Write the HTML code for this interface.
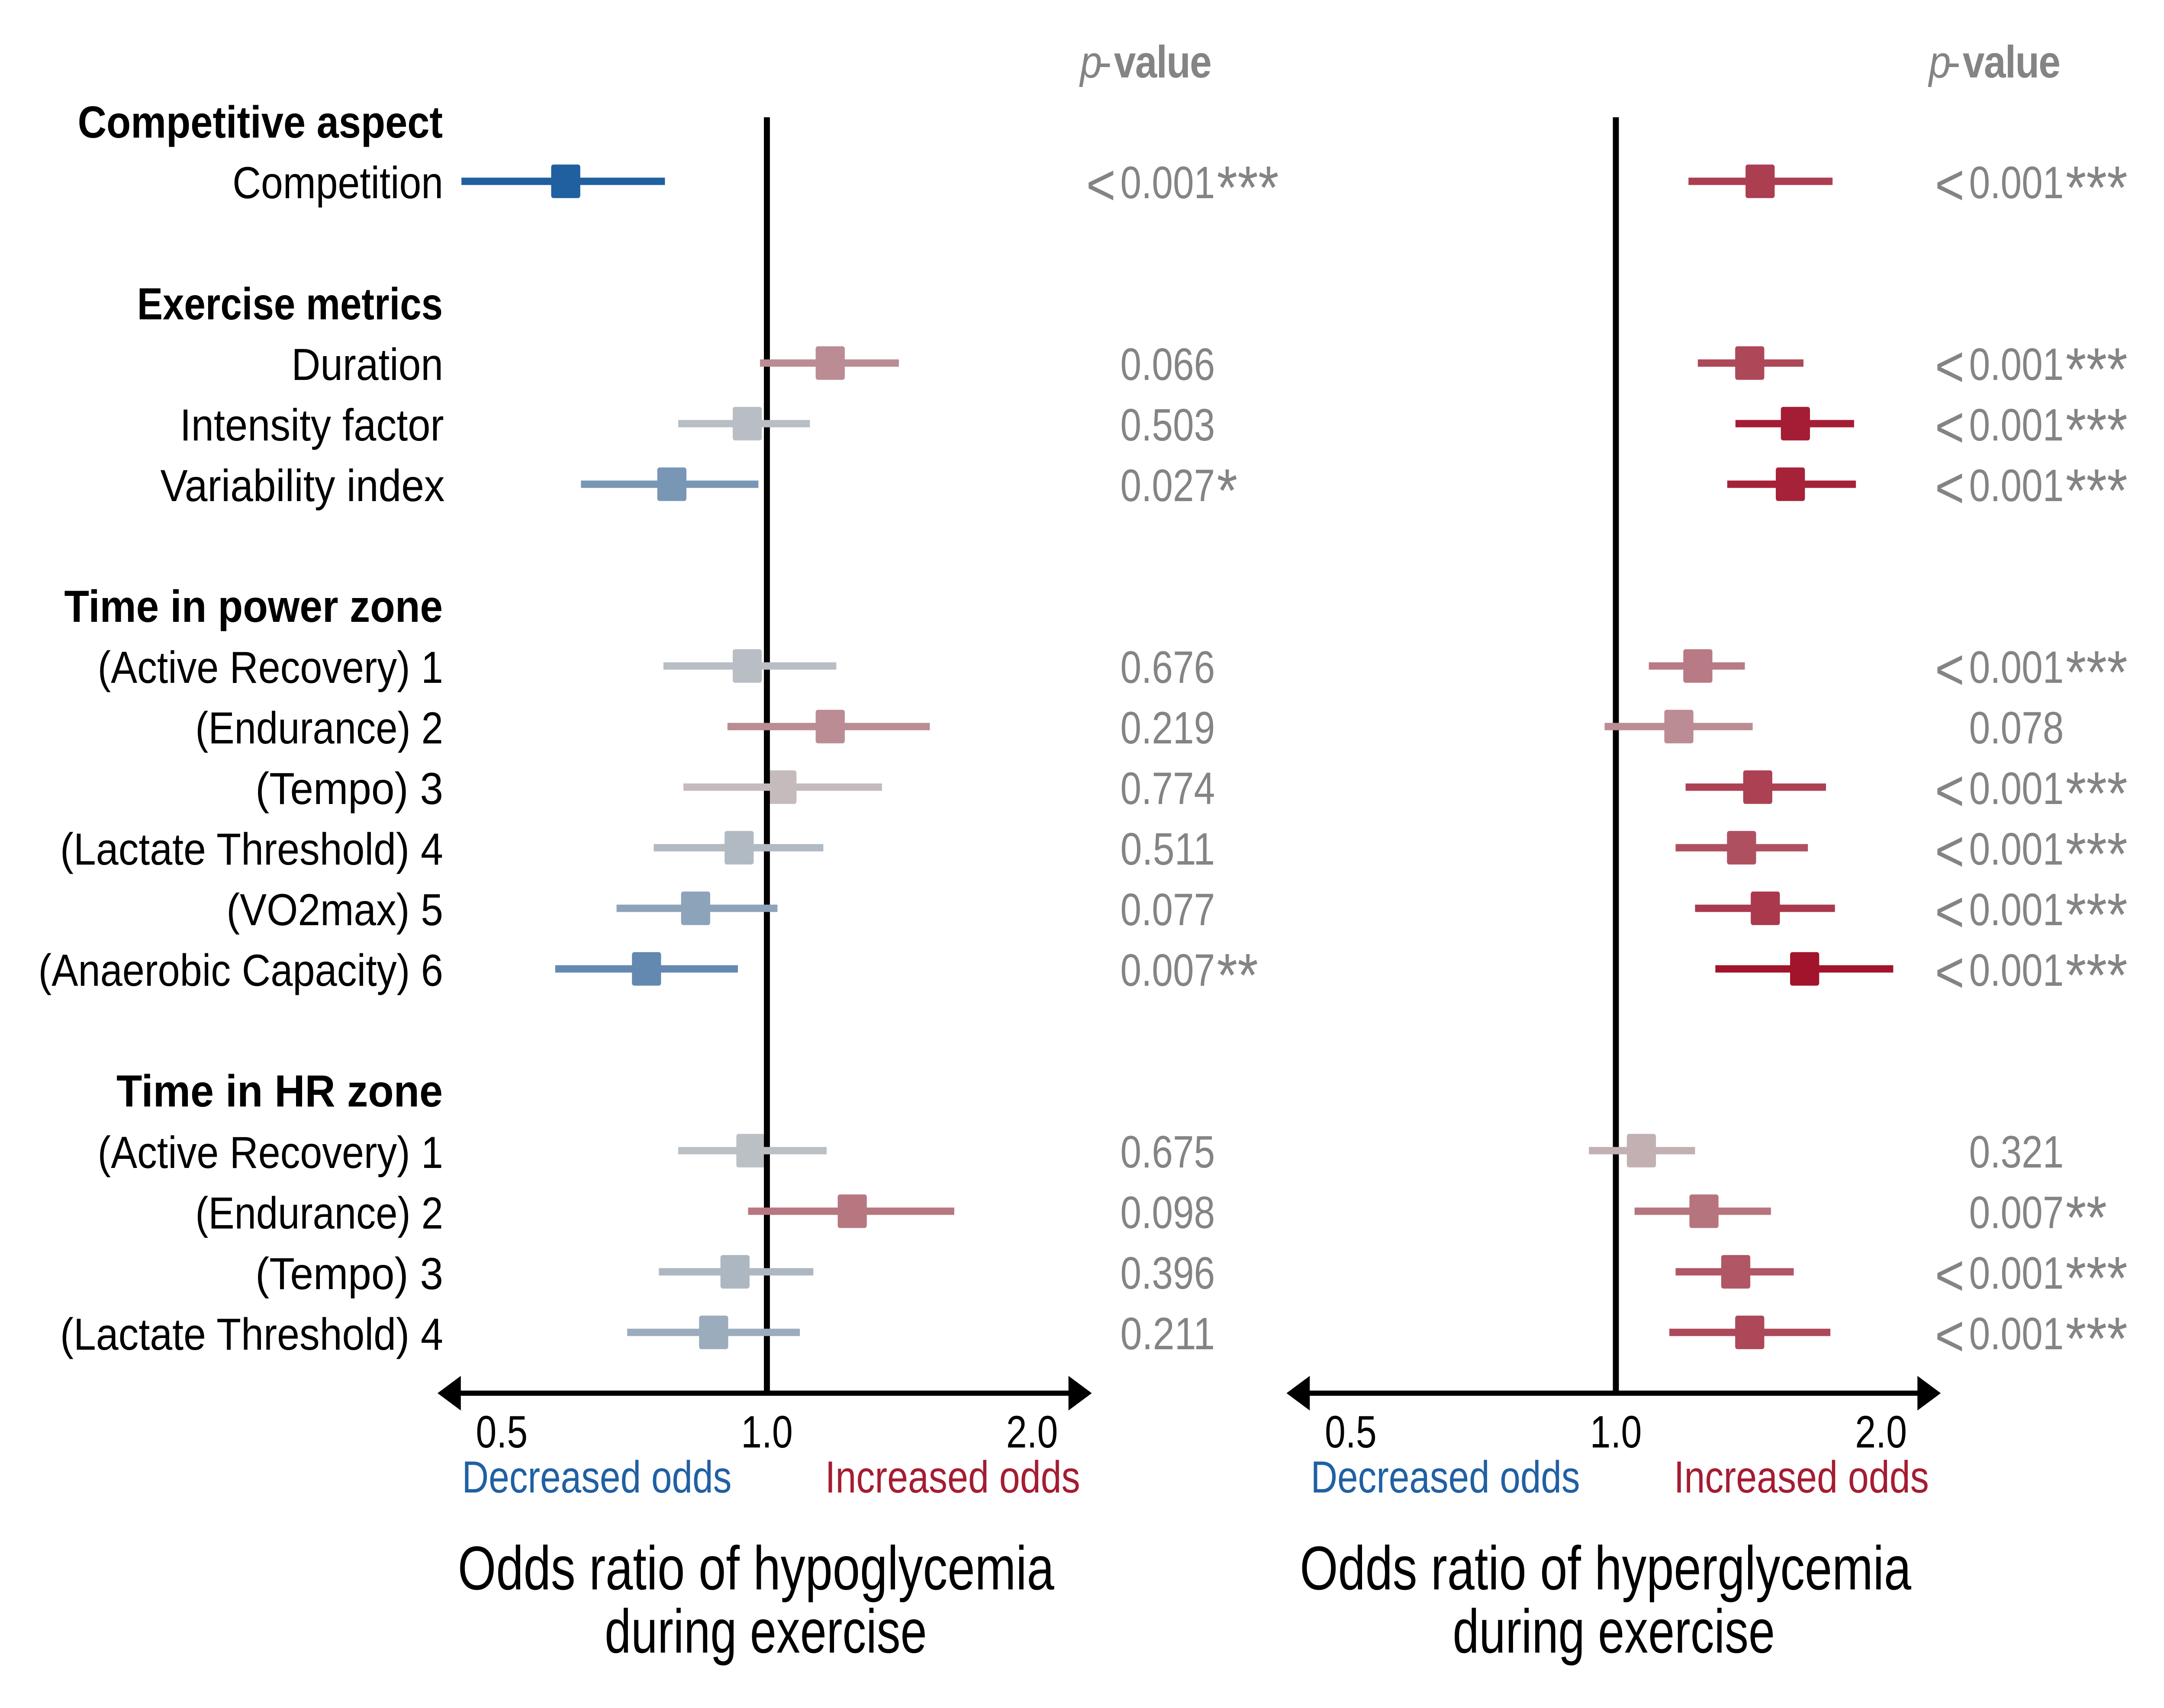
<!DOCTYPE html>
<html lang="en">
<head>
<meta charset="utf-8">
<title>Odds ratio of hypoglycemia and hyperglycemia during exercise</title>
<style>
html,body{margin:0;padding:0;background:#fff;width:100%;height:100%;overflow:hidden;}
svg{display:block;width:100vw;height:100vh;}
text{font-family:"Liberation Sans",sans-serif;}
.lab{font-size:104px;fill:#000;text-anchor:end;}
.grp{font-size:104px;font-weight:bold;fill:#000;text-anchor:end;}
.ttl{font-size:143px;fill:#000;}
.dir{font-size:104px;}
.tick{font-size:105px;fill:#000;text-anchor:middle;}
.pv{font-size:105px;fill:#848484;}
.pvh{font-size:105px;fill:#848484;}
</style>
</head>
<body>
<svg id="chart" xmlns="http://www.w3.org/2000/svg" viewBox="0 0 5762 3947" preserveAspectRatio="none">
<rect x="0" y="0" width="5762" height="3947" fill="#ffffff"/>

<g>
<text class="grp" x="1179" y="318" textLength="972" lengthAdjust="spacingAndGlyphs">Competitive aspect</text>
<text class="lab" x="1180" y="458" textLength="561" lengthAdjust="spacingAndGlyphs">Competition</text>
<text class="grp" x="1179" y="738" textLength="814" lengthAdjust="spacingAndGlyphs">Exercise metrics</text>
<text class="lab" x="1180" y="878" textLength="404" lengthAdjust="spacingAndGlyphs">Duration</text>
<text class="lab" x="1182" y="1018" textLength="703" lengthAdjust="spacingAndGlyphs">Intensity factor</text>
<text class="lab" x="1184" y="1158" textLength="757" lengthAdjust="spacingAndGlyphs">Variability index</text>
<text class="grp" x="1179" y="1437" textLength="1008" lengthAdjust="spacingAndGlyphs">Time in power zone</text>
<text class="lab" x="1180" y="1578" textLength="920" lengthAdjust="spacingAndGlyphs">(Active Recovery) 1</text>
<text class="lab" x="1180" y="1718" textLength="660" lengthAdjust="spacingAndGlyphs">(Endurance) 2</text>
<text class="lab" x="1180" y="1858" textLength="500" lengthAdjust="spacingAndGlyphs">(Tempo) 3</text>
<text class="lab" x="1180" y="1998" textLength="1020" lengthAdjust="spacingAndGlyphs">(Lactate Threshold) 4</text>
<text class="lab" x="1180" y="2138" textLength="577" lengthAdjust="spacingAndGlyphs">(VO2max) 5</text>
<text class="lab" x="1180" y="2278" textLength="1078" lengthAdjust="spacingAndGlyphs">(Anaerobic Capacity) 6</text>
<text class="grp" x="1179" y="2557" textLength="869" lengthAdjust="spacingAndGlyphs">Time in HR zone</text>
<text class="lab" x="1180" y="2699" textLength="920" lengthAdjust="spacingAndGlyphs">(Active Recovery) 1</text>
<text class="lab" x="1180" y="2839" textLength="660" lengthAdjust="spacingAndGlyphs">(Endurance) 2</text>
<text class="lab" x="1180" y="2979" textLength="500" lengthAdjust="spacingAndGlyphs">(Tempo) 3</text>
<text class="lab" x="1180" y="3119" textLength="1020" lengthAdjust="spacingAndGlyphs">(Lactate Threshold) 4</text>
</g>

<g>
<text class="pvh" y="179"><tspan x="2876" font-style="italic">p</tspan><tspan x="2925">-</tspan><tspan x="2966" font-weight="bold" letter-spacing="-2">value</tspan></text>
</g>
<g>
<text class="pvh" y="179"><tspan x="5136" font-style="italic">p</tspan><tspan x="5185">-</tspan><tspan x="5226" font-weight="bold" letter-spacing="-2">value</tspan></text>
</g>

<g>
<text class="dir" fill="#2060a3" x="1230" y="3449" textLength="718" lengthAdjust="spacingAndGlyphs">Decreased odds</text>
<text class="dir" fill="#a51c32" x="2197" y="3449" textLength="679" lengthAdjust="spacingAndGlyphs">Increased odds</text>
<text class="dir" fill="#2060a3" x="3490" y="3449" textLength="717" lengthAdjust="spacingAndGlyphs">Decreased odds</text>
<text class="dir" fill="#a51c32" x="4457" y="3449" textLength="679" lengthAdjust="spacingAndGlyphs">Increased odds</text>
</g>

<g>
<text class="ttl" x="1219" y="3673" textLength="1588" lengthAdjust="spacingAndGlyphs">Odds ratio of hypoglycemia</text>
<text class="ttl" x="1610" y="3819" textLength="858" lengthAdjust="spacingAndGlyphs">during exercise</text>
<text class="ttl" x="3461" y="3673" textLength="1628" lengthAdjust="spacingAndGlyphs">Odds ratio of hyperglycemia</text>
<text class="ttl" x="3868" y="3819" textLength="858" lengthAdjust="spacingAndGlyphs">during exercise</text>
</g>

<g id="panel-left"></g>
<g id="panel-right"></g>
</svg>

<script>
const rowCategories = [null,'Competition',null,null,'Duration','Intensity factor','Variability index',null,null,
  'Power 1 Active Recovery','Power 2 Endurance','Power 3 Tempo','Power 4 Lactate Threshold','Power 5 VO2max','Power 6 Anaerobic Capacity',null,null,
  'HR 1 Active Recovery','HR 2 Endurance','HR 3 Tempo','HR 4 Lactate Threshold'];

const hypoOdds  = [0.591, 1.180, 0.950, 0.780, 0.950, 1.180, 1.040, 0.930, 0.830, 0.730, 0.959, 1.250, 0.920, 0.870];
const hypoLower = [0.450, 0.982, 0.793, 0.615, 0.763, 0.902, 0.804, 0.744, 0.675, 0.575, 0.793, 0.952, 0.754, 0.694];
const hypoUpper = [0.766, 1.412, 1.119, 0.978, 1.199, 1.531, 1.351, 1.159, 1.028, 0.927, 1.169, 1.632, 1.129, 1.090];
const hypoP = ['<0.001***','0.066','0.503','0.027*','0.676','0.219','0.774','0.511','0.077','0.007**','0.675','0.098','0.396','0.211'];

const hyperOdds  = [1.458, 1.419, 1.599, 1.578, 1.239, 1.179, 1.449, 1.389, 1.478, 1.638, 1.069, 1.259, 1.368, 1.419];
const hyperLower = [1.209, 1.239, 1.367, 1.338, 1.090, 0.971, 1.200, 1.169, 1.230, 1.297, 0.932, 1.050, 1.169, 1.150];
const hyperUpper = [1.762, 1.633, 1.864, 1.873, 1.401, 1.430, 1.732, 1.652, 1.773, 2.065, 1.230, 1.500, 1.592, 1.752];
const hyperP = ['<0.001***','<0.001***','<0.001***','<0.001***','<0.001***','0.078','<0.001***','<0.001***','<0.001***','<0.001***','0.321','0.007**','<0.001***','<0.001***'];

const tickValues = [0.5, 1.0, 2.0];
const tickLabels = ['0.5', '1.0', '2.0'];

const SVGNS = 'http://www.w3.org/2000/svg';
const PX_PER_DOUBLING = 706;
const ROW_HEIGHT = 140;
const ROW_ZERO = 279;
const AXIS_Y = 3219.5;

const dataSlots = [];
rowCategories.forEach(function (c, i) { if (c !== null) dataSlots.push(i); });

function xScale(v, x0) { return x0 + PX_PER_DOUBLING * Math.log2(v); }
function yScale(slot) { return ROW_ZERO + ROW_HEIGHT * slot; }

function oddsColor(v) {
  const t = Math.log2(v);
  let r, g, b;
  if (t < 0) {
    r = 200 + 222 * t; g = 200 + 138 * t; b = 200 + 52.6 * t;
  } else {
    r = 200 - 53 * t; g = 200 - 253 * t; b = 200 - 219 * t;
  }
  const c = function (n) { return Math.max(0, Math.min(255, Math.round(n))); };
  return 'rgb(' + c(r) + ',' + c(g) + ',' + c(b) + ')';
}

function make(tag, parent) {
  const el = document.createElementNS(SVGNS, tag);
  parent.appendChild(el);
  return el;
}

function addSpan(textEl, content, x, y, size, length) {
  const s = make('tspan', textEl);
  s.setAttribute('x', x);
  s.setAttribute('y', y);
  s.setAttribute('font-size', size);
  if (length) {
    s.setAttribute('textLength', length);
    s.setAttribute('lengthAdjust', 'spacingAndGlyphs');
  }
  s.textContent = content;
}

function drawPanel(parent, x0, odds, lower, upper, pvals, pX) {
  dataSlots.forEach(function (slot, i) {
    const m = make('rect', parent);
    
    
    m.setAttribute('x', xScale(odds[i], x0) - 38.75);
    m.setAttribute('y', yScale(slot) - 38.75);
    m.setAttribute('width', 77.5);
    m.setAttribute('height', 77.5);
    m.setAttribute('rx', 6);
    m.setAttribute('fill', oddsColor(odds[i]));
  });

  const ref = make('rect', parent);
  
  
  ref.setAttribute('x', xScale(1, x0) - 8);
  ref.setAttribute('y', 271);
  ref.setAttribute('width', 16);
  ref.setAttribute('height', AXIS_Y - 271);
  ref.setAttribute('fill', '#000');

  dataSlots.forEach(function (slot, i) {
    const c = make('rect', parent);
    
    
    c.setAttribute('x', xScale(lower[i], x0));
    c.setAttribute('y', yScale(slot) - 8.5);
    c.setAttribute('width', xScale(upper[i], x0) - xScale(lower[i], x0));
    c.setAttribute('height', 17);
    c.setAttribute('fill', oddsColor(odds[i]));
  });

  const tipL = xScale(1, x0) - 877;
  const tipR = xScale(1, x0) + 865;
  const axis = make('rect', parent);
  
  
  axis.setAttribute('x', tipL + 30);
  axis.setAttribute('y', AXIS_Y - 6);
  axis.setAttribute('width', tipR - tipL - 60);
  axis.setAttribute('height', 12);
  axis.setAttribute('fill', '#000');

  const arrowL = make('polygon', parent);
  
  
  arrowL.setAttribute('points', tipL + ',' + AXIS_Y + ' ' + (tipL + 62) + ',' + (AXIS_Y - 40) + ' ' + (tipL + 62) + ',' + (AXIS_Y + 40));
  arrowL.setAttribute('fill', '#000');

  const arrowR = make('polygon', parent);
  
  
  arrowR.setAttribute('points', tipR + ',' + AXIS_Y + ' ' + (tipR - 62) + ',' + (AXIS_Y - 40) + ' ' + (tipR - 62) + ',' + (AXIS_Y + 40));
  arrowR.setAttribute('fill', '#000');

  tickValues.forEach(function (v, i) {
    const t = make('text', parent);
    
    
    t.setAttribute('class', 'tick');
    t.setAttribute('x', xScale(v, x0));
    t.setAttribute('y', 3345);
    t.setAttribute('textLength', 138);
    t.setAttribute('lengthAdjust', 'spacingAndGlyphs');
    t.textContent = tickLabels[i];
  });

  dataSlots.forEach(function (slot, i) {
    const t = make('text', parent);
    
    
    t.setAttribute('class', 'pv');
    const base = yScale(slot) + 39;
    const raw = pvals[i];
    const hasLess = raw.charAt(0) === '<';
    const body = raw.replace('<', '').replace(/\*/g, '');
    const stars = raw.replace(/[^*]/g, '');
    if (hasLess) { addSpan(t, '<', pX - 91, base + 15, 135); }
    addSpan(t, body, pX, base, 105, 252);
    if (stars) { addSpan(t, stars, pX + 257, base + 24, 141, 55 * stars.length); }
  });
}

drawPanel(document.getElementById('panel-left'), 2042, hypoOdds, hypoLower, hypoUpper, hypoP, 2983);
drawPanel(document.getElementById('panel-right'), 4302.5, hyperOdds, hyperLower, hyperUpper, hyperP, 5243);
</script>
</body>
</html>
